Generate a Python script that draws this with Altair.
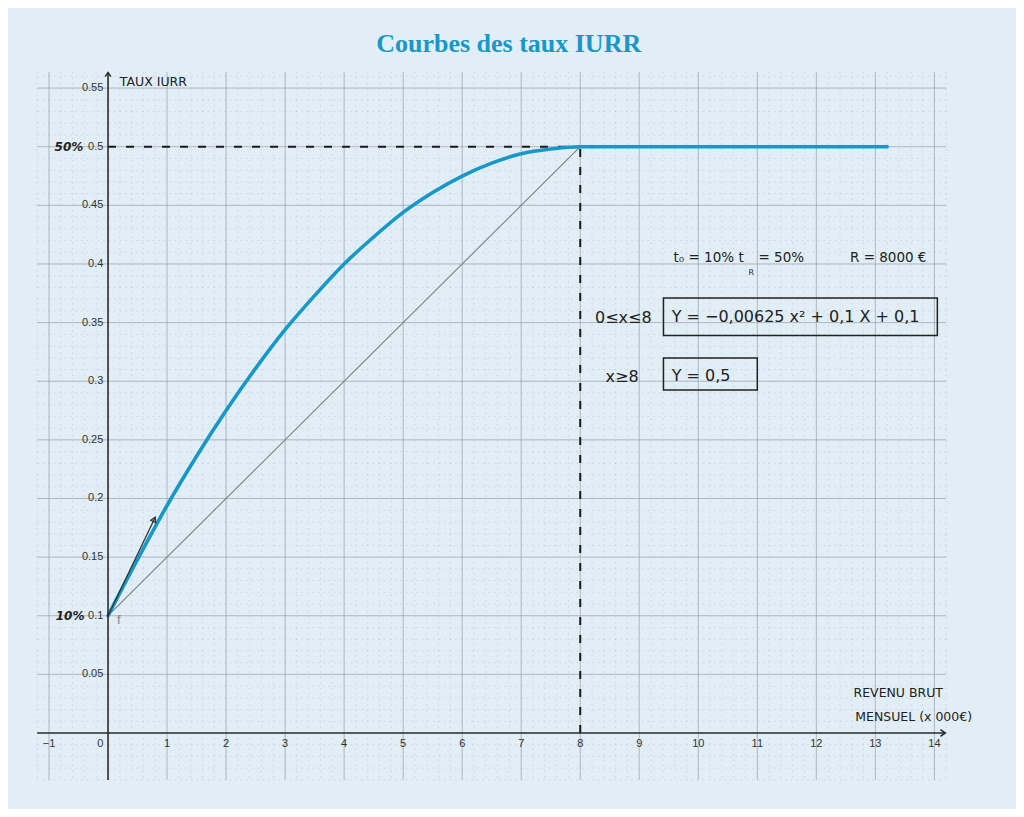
import altair as alt
import pandas as pd
import numpy as np

# ---------------- data ----------------
curve_x = [0, 0.5, 1, 1.5, 2, 2.5, 3, 3.5, 4, 4.5, 5, 5.5, 6, 6.5, 7, 7.5, 8, 13.2]
curve_y = [0.100, 0.148, 0.194, 0.236, 0.275, 0.311, 0.344, 0.373, 0.400, 0.423,
           0.444, 0.461, 0.475, 0.486, 0.494, 0.498, 0.500, 0.500]
chord_x = [0, 8]
chord_y = [0.1, 0.5]
tangent_x = [0, 0.8]
tangent_y = [0.1, 0.184]
x_ticks = list(range(-1, 15))
x_tick_labels = ["\u22121", "0", "1", "2", "3", "4", "5", "6", "7", "8", "9", "10", "11", "12", "13", "14"]
y_ticks = [0.05, 0.1, 0.15, 0.2, 0.25, 0.3, 0.35, 0.4, 0.45, 0.5, 0.55]
y_tick_labels = ["0.05", "0.1", "0.15", "0.2", "0.25", "0.3", "0.35", "0.4", "0.45", "0.5", "0.55"]

BLUE = "#1898c8"
BG = "#e1eef6"
INK = "#2a2a2a"

W, H = 909, 709.4
X_DOM = [-1.2, 14.2]
Y_DOM = [-0.04, 0.565]
xs = alt.Scale(domain=X_DOM, nice=False, zero=False)
ys = alt.Scale(domain=Y_DOM, nice=False, zero=False)


def X(f="x"):
    return alt.X(f"{f}:Q", scale=xs, axis=None)


def Y(f="y"):
    return alt.Y(f"{f}:Q", scale=ys, axis=None)


# ---------------- grid ----------------
minor_x = [v for v in np.round(np.arange(-1.2, 14.21, 0.2), 2) if abs(v - round(v)) > 1e-6]
minor_y = [v for v in np.round(np.arange(-0.04, 0.561, 0.01), 3) if abs(v * 20 - round(v * 20)) > 1e-6]
major_x = [v for v in x_ticks if v != 0]
major_y = y_ticks

g_minor_v = alt.Chart(pd.DataFrame({"x": minor_x})).mark_rule(
    color="#9aa6ae", strokeWidth=0.7, strokeDash=[1.5, 4], opacity=0.45
).encode(x=X(), y=alt.value(1.5), y2=alt.value(H))
g_minor_h = alt.Chart(pd.DataFrame({"y": minor_y})).mark_rule(
    color="#9aa6ae", strokeWidth=0.7, strokeDash=[1.5, 4], opacity=0.45
).encode(y=Y(), x=alt.value(0), x2=alt.value(W))
g_major_v = alt.Chart(pd.DataFrame({"x": major_x})).mark_rule(
    color="#98a2a9", strokeWidth=0.9, opacity=0.8
).encode(x=X(), y=alt.value(1.5), y2=alt.value(H))
g_major_h = alt.Chart(pd.DataFrame({"y": major_y})).mark_rule(
    color="#98a2a9", strokeWidth=0.9, opacity=0.8
).encode(y=Y(), x=alt.value(0), x2=alt.value(W))

# ---------------- axes ----------------
axis_df = pd.DataFrame({"x": [0], "y": [0]})
x_axis = alt.Chart(axis_df).mark_rule(color=INK, strokeWidth=1.6).encode(
    y=Y(), x=alt.value(0), x2=alt.value(W - 1)
)
y_axis = alt.Chart(axis_df).mark_rule(color=INK, strokeWidth=1.6).encode(
    x=X(), y=alt.value(2), y2=alt.value(H)
)
x_arrow = alt.Chart(axis_df).mark_point(
    shape="M-1,-0.7L0,0L-1,0.7", filled=False, stroke=INK, strokeWidth=1.6, size=90, opacity=1
).encode(y=Y(), x=alt.value(W - 1))
y_arrow = alt.Chart(axis_df).mark_point(
    shape="M-0.7,1L0,0L0.7,1", filled=False, stroke=INK, strokeWidth=1.4, size=70, opacity=1
).encode(x=X(), y=alt.value(2))

xt = pd.DataFrame({"x": x_ticks, "label": x_tick_labels})
xt["x"] = [v - 0.13 if v == 0 else v for v in x_ticks]
x_lab = alt.Chart(xt).mark_text(
    font="Liberation Sans", fontSize=11, color="#333", baseline="top", align="center"
).encode(x=X(), y=alt.YDatum(-0.004, scale=ys, axis=None), text="label:N")
yt = pd.DataFrame({"y": y_ticks, "label": y_tick_labels})
y_lab = alt.Chart(yt).mark_text(
    font="Liberation Sans", fontSize=11, color="#333", baseline="middle", align="right"
).encode(y=Y(), x=alt.XDatum(-0.08, scale=xs, axis=None), text="label:N")

# ---------------- curves ----------------
dash_h = alt.Chart(axis_df).mark_rule(color="#1a1a1a", strokeWidth=2, strokeDash=[8, 10]).encode(
    x=alt.XDatum(0, scale=xs, axis=None), x2=alt.X2Datum(8), y=alt.YDatum(0.5, scale=ys, axis=None)
)
dash_v = alt.Chart(axis_df).mark_rule(color="#1a1a1a", strokeWidth=2, strokeDash=[8, 10]).encode(
    x=alt.XDatum(8, scale=xs, axis=None), y=alt.YDatum(0, scale=ys, axis=None), y2=alt.Y2Datum(0.5)
)
chord = alt.Chart(pd.DataFrame({"x": chord_x, "y": chord_y})).mark_line(
    color="#7d7f80", strokeWidth=1.1
).encode(x=X(), y=Y())
curve = alt.Chart(pd.DataFrame({"x": curve_x, "y": curve_y})).mark_line(
    color=BLUE, strokeWidth=3.6, interpolate="monotone", strokeCap="round"
).encode(x=X(), y=Y())
tangent = alt.Chart(pd.DataFrame({"x": tangent_x, "y": tangent_y})).mark_line(
    color="#333", strokeWidth=1.3
).encode(x=X(), y=Y())
tan_head = alt.Chart(pd.DataFrame({"x": tangent_x[1:], "y": tangent_y[1:]})).mark_point(
    shape="M-0.7,1.2L0,0L0.7,1.2Z", filled=False, stroke="#333", strokeWidth=1.3, size=60, angle=26, opacity=1
).encode(x=X(), y=Y())

# ---------------- annotations ----------------
HAND = "DejaVu Sans"
f_lab = alt.Chart(pd.DataFrame({"x": [0.15], "y": [0.096], "t": ["f"]})).mark_text(
    font="Liberation Sans", fontSize=13, color="#888", align="left", baseline="middle"
).encode(x=X(), y=Y(), text="t:N")

pct = pd.DataFrame({"x": [-0.42, -0.40], "y": [0.5, 0.1], "t": ["50%", "10%"]})
pct_lab = alt.Chart(pct).mark_text(
    font=HAND, fontSize=12, fontStyle="italic", fontWeight="bold", color="#222", align="right", baseline="middle"
).encode(x=X(), y=Y(), text="t:N")

small_notes = pd.DataFrame({
    "x": [0.2, 12.63, 12.66],
    "y": [0.555, 0.034, 0.0135],
    "t": ["TAUX  IURR", "REVENU  BRUT", "MENSUEL (x 000€)"],
})
small_lab = alt.Chart(small_notes).mark_text(
    font=HAND, fontSize=12.5, color="#222", align="left", baseline="middle"
).encode(x=X(), y=Y(), text="t:N")

mid_notes = pd.DataFrame({
    "x": [9.58, 10.68, 11.02, 12.57],
    "y": [0.405, 0.405, 0.405, 0.405],
    "t": ["t₀ = 10%", "t", "= 50%", "R = 8000 €"],
})
mid_lab = alt.Chart(mid_notes).mark_text(
    font=HAND, fontSize=13.5, color="#222", align="left", baseline="middle"
).encode(x=X(), y=Y(), text="t:N")
sub_lab = alt.Chart(pd.DataFrame({"x": [10.85], "y": [0.392], "t": ["R"]})).mark_text(
    font=HAND, fontSize=8, color="#222", align="left", baseline="middle"
).encode(x=X(), y=Y(), text="t:N")

big_notes = pd.DataFrame({
    "x": [8.25, 9.55, 8.43, 9.55],
    "y": [0.354, 0.355, 0.304, 0.3045],
    "t": ["0≤x≤8", "Y = −0,00625 x² + 0,1 X + 0,1", "x≥8", "Y = 0,5"],
})
big_lab = alt.Chart(big_notes).mark_text(
    font=HAND, fontSize=16, color="#222", align="left", baseline="middle"
).encode(x=X(), y=Y(), text="t:N")

boxes = pd.DataFrame({
    "x": [9.41, 9.41], "x2": [14.05, 11.0],
    "y": [0.371, 0.3198], "y2": [0.339, 0.2925],
})
box_marks = alt.Chart(boxes).mark_rect(
    fill=None, fillOpacity=0, stroke="#222", strokeWidth=1.5
).encode(x=X(), x2="x2:Q", y=Y(), y2="y2:Q")

chart = alt.layer(
    g_minor_v, g_minor_h, g_major_v, g_major_h,
    dash_h, dash_v, chord, curve, tangent, tan_head,
    x_axis, y_axis, x_arrow, y_arrow, x_lab, y_lab,
    f_lab, pct_lab, small_lab, mid_lab, sub_lab, big_lab, box_marks,
).properties(
    width=W, height=H,
    title=alt.TitleParams(
        "Courbes des taux IURR", font="Liberation Serif", fontSize=26, fontWeight="bold",
        color=BLUE, anchor="middle", dx=17, offset=13,
    ),
    autosize=alt.AutoSizeParams(type="none"),
    padding={"left": 29.2, "top": 62.5, "right": 69.8, "bottom": 29},
    background=BG,
).configure_view(stroke=None)

chart.save("out.html", embed_options={"renderer": "svg", "actions": False})
